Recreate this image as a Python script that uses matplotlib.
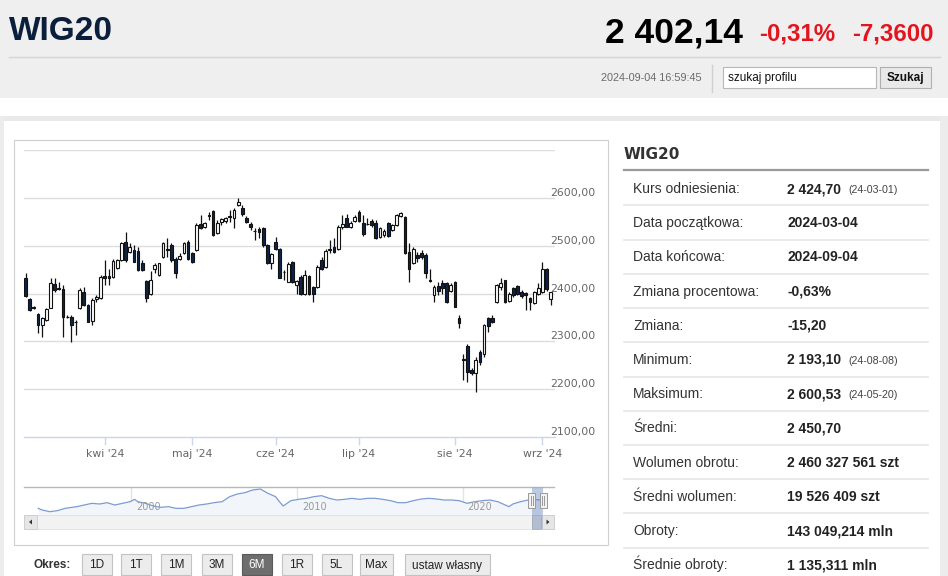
import numpy as np
import matplotlib
matplotlib.use('Agg')
import matplotlib.pyplot as plt
from matplotlib.patches import Rectangle, Polygon
from matplotlib.lines import Line2D
import matplotlib.transforms as mtransforms
from matplotlib import font_manager

# ---------------- data ----------------
opens = [2431.5, 2387.6, 2372, 2358, 2334, 2344, 2370, 2420, 2411, 2409,
         2351, 2351, 2340, 2369, 2404, 2376, 2342, 2388, 2390, 2437,
         2437, 2435, 2452.5, 2470, 2508, 2487, 2491, 2489, 2463, 2426,
         2398, 2451, 2439, 2477, 2494, 2501, 2473, 2473, 2484, 2508,
         2484, 2491, 2545, 2540, 2563, 2573, 2526, 2550, 2551, 2563,
         2557, 2585, 2578, 2558.5, 2545, 2531, 2535, 2536, 2501, 2463,
         2508, 2493, 2445, 2425, 2466, 2418, 2434, 2399, 2436, 2414,
         2413, 2471, 2456, 2494, 2498, 2492, 2538, 2557, 2540, 2552,
         2571, 2547, 2546, 2552, 2548, 2519, 2522, 2546.6, 2532.6, 2543,
         2562.6, 2559, 2487, 2463, 2480, 2484, 2480, 2429, 2396.6, 2415.5,
         2421, 2421, 2405.7, 2424.5, 2347.8, 2262, 2290, 2240, 2233, 2278,
         2273, 2348, 2348, 2383, 2414, 2428, 2385, 2411, 2415, 2404,
         2400, 2390, 2381, 2400, 2404, 2452, 2388]
highs = [2442, 2390, 2374, 2360, 2351, 2369, 2432, 2433, 2425, 2418,
         2355, 2355, 2344, 2411, 2414, 2379, 2390, 2397, 2439, 2470,
         2452, 2473, 2473, 2508, 2529, 2505, 2501, 2498, 2470, 2428,
         2446, 2463, 2464, 2508, 2515, 2505, 2477, 2484, 2508, 2512,
         2487, 2547, 2564, 2550, 2571, 2575, 2554, 2558, 2559, 2575,
         2578, 2600.53, 2585, 2563, 2550, 2536, 2538, 2540, 2503, 2484,
         2519, 2495, 2449, 2466, 2468, 2428, 2438, 2450, 2438, 2416,
         2460, 2477, 2492, 2511, 2515, 2543, 2564, 2567, 2552, 2564,
         2574, 2564, 2557, 2556, 2553, 2540, 2535, 2550, 2546, 2567,
         2569.6, 2561, 2505, 2498, 2487, 2490, 2484, 2452, 2417.6, 2424.5,
         2428, 2424, 2421, 2426, 2354.8, 2274, 2295, 2245, 2268, 2282,
         2337, 2351, 2355, 2420, 2433, 2429, 2403, 2414, 2417, 2407,
         2403, 2393, 2406, 2421, 2466, 2454, 2404]
lows = [2393, 2363, 2367, 2317, 2310, 2342, 2369, 2404, 2407, 2310,
        2348, 2299, 2313, 2367, 2374, 2340, 2334, 2383, 2388, 2418,
        2418, 2433, 2451, 2468, 2466, 2484, 2465, 2447, 2447, 2383,
        2397, 2442, 2437, 2475, 2477, 2466, 2432, 2470, 2482, 2470,
        2463, 2489, 2535, 2536, 2554, 2521, 2524, 2544, 2547, 2550,
        2536, 2582, 2563, 2547, 2533, 2512, 2515, 2498, 2461, 2452,
        2491, 2431.5, 2428, 2424, 2422, 2400, 2397, 2397, 2397, 2383,
        2411, 2450, 2453, 2484, 2485, 2490, 2535, 2538, 2537, 2549,
        2550, 2520, 2543, 2540, 2513, 2516, 2518, 2518, 2531, 2541,
        2560, 2482, 2425, 2461, 2466, 2473, 2431.5, 2424.5, 2382.7, 2397,
        2400, 2380, 2404, 2371, 2327, 2219, 2215, 2230, 2193.1, 2250,
        2268, 2320, 2338, 2381, 2408, 2381, 2383, 2393, 2397, 2390,
        2365, 2365, 2378, 2397, 2401, 2406, 2376]
closes = [2394.6, 2365.3, 2370, 2335, 2349, 2367, 2421, 2407, 2409, 2350,
          2350, 2334, 2341, 2407, 2376, 2341, 2386, 2393, 2435, 2432,
          2433, 2468, 2470, 2505, 2470, 2498, 2466, 2449, 2449, 2390,
          2428, 2459, 2463, 2505, 2491, 2470, 2442, 2478, 2505, 2473,
          2466, 2543, 2536, 2547, 2564, 2522, 2547, 2555, 2557, 2559,
          2575, 2592, 2566, 2550, 2538, 2530, 2529, 2501, 2463, 2482,
          2494, 2433, 2444, 2462, 2424.5, 2426, 2398, 2438.5, 2399, 2399,
          2456, 2452, 2489, 2491, 2487, 2540, 2545, 2540, 2547, 2560,
          2552, 2524, 2545, 2543, 2517, 2536, 2530, 2520, 2543, 2564,
          2567.5, 2484, 2452, 2494, 2475, 2477, 2442, 2427, 2412.7, 2405.7,
          2410.6, 2382.7, 2417.6, 2372.2, 2337.4, 2264, 2236, 2234, 2262, 2257,
          2334, 2332, 2341, 2418, 2421, 2383, 2400, 2397, 2400, 2394,
          2396, 2382, 2404, 2411, 2452, 2409.5, 2402.14]

month_idx = [19, 40, 60, 80, 103, 124]
month_labels = ["kwi '24", "maj '24", "cze '24", "lip '24", "sie '24", "wrz '24"]
y_levels = [2100, 2200, 2300, 2400, 2500, 2600, 2700]
y_labels = ["2100,00", "2200,00", "2300,00", "2400,00", "2500,00", "2600,00"]

nav_years = [1994.38, 1994.62, 1995.08, 1995.54, 1996.0, 1996.7, 1997.16, 1997.62, 1998.08,
             1998.54, 1999.0, 1999.47, 1999.93, 2000.2, 2000.39, 2000.86, 2001.32, 2001.78,
             2002.24, 2002.7, 2003.17, 2003.63, 2004.09, 2004.55, 2005.0, 2005.48, 2005.94,
             2006.4, 2006.86, 2007.33, 2007.79, 2008.0, 2008.25, 2008.71, 2008.94, 2009.17,
             2009.4, 2009.64, 2010.1, 2010.56, 2011.02, 2011.49, 2011.95, 2012.41, 2012.87,
             2013.33, 2013.8, 2014.26, 2014.72, 2015.18, 2015.65, 2016.1, 2016.57, 2017.03,
             2017.5, 2017.96, 2018.42, 2018.88, 2019.34, 2019.8, 2020.27, 2020.73, 2021.19,
             2021.65, 2022.12, 2022.58, 2022.8, 2023.04, 2023.5, 2023.97, 2024.31, 2024.67]
nav_values = [1290, 1065, 840, 975, 1290, 1515, 1740, 1965, 1875, 2055, 1740, 1965, 2190,
              2505, 2190, 1965, 1605, 1425, 1515, 1290, 1290, 1515, 1740, 1875, 2055, 2190,
              2865, 3225, 3405, 3765, 3900, 3630, 3315, 2865, 2190, 1605, 1965, 2325, 2505,
              2640, 2865, 3000, 2640, 2415, 2505, 2640, 2505, 2640, 2640, 2505, 2325, 2055,
              2055, 2325, 2550, 2640, 2550, 2415, 2415, 2325, 1965, 2190, 2325, 2415, 2190,
              1740, 1515, 1875, 2190, 2415, 2505, 2415]
nav_ticks = [2000, 2010, 2020]
range_start, range_end = 2024.17, 2024.67

header_name = "WIG20"
header_price = "2 402,14"
header_pct = "-0,31%"
header_chg = "-7,3600"
header_time = "2024-09-04 16:59:45"

table_labels = ['Kurs odniesienia:', 'Data początkowa:', 'Data końcowa:', 'Zmiana procentowa:',
                'Zmiana:', 'Minimum:', 'Maksimum:', 'Średni:', 'Wolumen obrotu:',
                'Średni wolumen:', 'Obroty:', 'Średnie obroty:']
table_values = ['2 424,70', '2024-03-04', '2024-09-04', '-0,63%', '-15,20', '2 193,10',
                '2 600,53', '2 450,70', '2 460 327 561 szt', '19 526 409 szt',
                '143 049,214 mln', '1 135,311 mln']
table_notes = ['(24-03-01)', '', '', '', '', '(24-08-08)', '(24-05-20)', '', '', '', '', '']

buttons = ['1D', '1T', '1M', '3M', '6M', '1R', '5L', 'Max', 'ustaw własny']
active_button = '6M'

# ---------------- helpers ----------------
def pick(*names):
    avail = {f.name for f in font_manager.fontManager.ttflist}
    for n in names:
        if n in avail:
            return n
    return 'DejaVu Sans'

ARIAL = pick('Liberation Sans', 'Arimo', 'DejaVu Sans')
VERD = 'DejaVu Sans'
plt.rcParams['font.family'] = [ARIAL, 'DejaVu Sans']

W, H = 948, 576
fig = plt.figure(figsize=(W / 100, H / 100), dpi=100)
fig.patch.set_facecolor('white')

def fx(x):
    return x / W

def fy(y):
    return 1 - y / H

def rect(x0, y0, x1, y1, fc='none', ec='none', lw=1.0, z=-5):
    fig.add_artist(Rectangle((fx(x0), fy(y1)), (x1 - x0) / W, (y1 - y0) / H,
                             transform=fig.transFigure, facecolor=fc, edgecolor=ec,
                             linewidth=lw, zorder=z))

def hline(x0, x1, y, color, lw=1.0, z=-4):
    fig.add_artist(Line2D([fx(x0), fx(x1)], [fy(y), fy(y)], transform=fig.transFigure,
                          color=color, linewidth=lw, zorder=z))

def vline(x, y0, y1, color, lw=1.0, z=-4):
    fig.add_artist(Line2D([fx(x), fx(x)], [fy(y0), fy(y1)], transform=fig.transFigure,
                          color=color, linewidth=lw, zorder=z))

def text(x, y, s, **kw):
    kw.setdefault('va', 'baseline')
    fig.text(fx(x), fy(y), s, **kw)

# ---------------- page backgrounds ----------------
rect(0, 0, W, 98, fc='#efefef')
rect(0, 116, W, 121, fc='#e9e9e9')
rect(0, 116, 4, H, fc='#ececec')
rect(940, 116, W, H, fc='#ececec')
hline(9, 940, 57, '#d4d4d4')

# header texts
text(9, 40, header_name, fontsize=24, fontweight='bold', color='#0b1e3c')
text(743, 42, header_price, fontsize=25.5, fontweight='bold', color='black', ha='right')
text(759, 41, header_pct, fontsize=17.3, fontweight='bold', color='#e3141e')
text(934, 41, header_chg, fontsize=17.3, fontweight='bold', color='#e3141e', ha='right')
text(702, 81, header_time, fontsize=7.8, color='#6a6a6a', ha='right')
vline(712, 65, 92, '#d0d0d0')
rect(723, 67, 876, 88, fc='white', ec='#b8b8b8', lw=0.8, z=-3)
text(728, 81.5, 'szukaj profilu', fontsize=8.5, color='#111111')
rect(880, 67, 931, 88, fc='#e9e9e9', ec='#b0b0b0', lw=0.8, z=-3)
text(905.5, 81.5, 'Szukaj', fontsize=8.5, fontweight='bold', color='#111111', ha='center')

# chart panel border
rect(14, 140, 608, 545, fc='none', ec='#cfcfcf', lw=0.8, z=-3)

# ---------------- main candlestick chart ----------------
o = np.array(opens); h = np.array(highs); l = np.array(lows); c = np.array(closes)
idx = np.arange(len(o))
x_px0, x_px1 = 24, 555
ax = fig.add_axes([fx(x_px0), fy(437), (x_px1 - x_px0) / W, (437 - 150) / H])
ax.set_facecolor('none')
ax.set_xlim(-0.36, 127.0)
ax.set_ylim(2100, 2700)
for s in ax.spines.values():
    s.set_visible(False)
for v in y_levels[1:]:
    ax.axhline(v, color='#dddddd', lw=1.0, zorder=0)
ax.axhline(2100, color='#ccd6eb', lw=1.0, zorder=0, clip_on=False)
ax.set_yticks([])
ax.set_xticks(month_idx)
ax.set_xticklabels(month_labels, fontsize=7.8, color='#666666', family=VERD)
ax.tick_params(axis='x', length=6, width=1, color='#ccd6eb', pad=2.5)

up = c >= o
ax.vlines(idx, l, h, color='#111111', lw=0.9, zorder=2)
bottoms = np.minimum(o, c)
heights = np.maximum(np.abs(c - o), 0.8)
ax.bar(idx[up], heights[up], bottom=bottoms[up], width=0.66, color='white',
       edgecolor='#111111', linewidth=0.8, zorder=3)
ax.bar(idx[~up], heights[~up], bottom=bottoms[~up], width=0.66, color='#0d2447',
       edgecolor='#111111', linewidth=0.8, zorder=3)

lab_tr = mtransforms.offset_copy(ax.get_yaxis_transform(), fig=fig, x=0, y=2, units='dots')
for v, s in zip(y_levels[:-1], y_labels):
    ax.text((550 - x_px0) / (x_px1 - x_px0), v, s, transform=lab_tr, ha='left', va='baseline',
            fontsize=7.8, color='#666666', family=VERD, zorder=5)

# ---------------- navigator ----------------
nav_x0, nav_x1 = 24, 554
nav_ylo, nav_yhi = 390, 4170
yr0, yr1 = 1993.52, 2025.52
nav = fig.add_axes([fx(nav_x0), fy(515), (nav_x1 - nav_x0) / W, (515 - 487) / H])
nav.set_xlim(yr0, yr1)
nav.set_ylim(nav_ylo, nav_yhi)
nav.axis('off')
for t in nav_ticks:
    nav.axvline(t, color='#e3e3e3', lw=1, zorder=0)
nav.fill_between(nav_years, nav_values, nav_ylo, color='#f2f5fa', lw=0, zorder=1)
for t in nav_ticks:
    nav.text(t + 0.3, 0.3, str(t), transform=nav.get_xaxis_transform(), fontsize=7,
             color='#9a9a9a', family=VERD, va='center', ha='left', zorder=4)
nav.plot(nav_years, nav_values, color='#7c9bd1', lw=0.9, zorder=3)
nav.axvspan(range_start, range_end + 0.2, color=(0.4, 0.52, 0.76), alpha=0.3, lw=0, zorder=5)
hline(nav_x0, nav_x1, 487, '#b8b8b8', z=2)

def yr_px(yr):
    return nav_x0 + (yr - yr0) / (yr1 - yr0) * (nav_x1 - nav_x0)

# scrollbar
rect(nav_x0, 515, nav_x1, 529, fc='#f2f2f2', ec='#e0e0e0', lw=0.6, z=1)
rect(nav_x0, 515, nav_x0 + 13, 529, fc='#e6e6e6', ec='#cccccc', lw=0.6, z=2)
rect(nav_x1 - 12, 515, nav_x1, 529, fc='#e6e6e6', ec='#cccccc', lw=0.6, z=2)
sx0, sx1 = yr_px(range_start), yr_px(range_end) + 1
rect(sx0, 515, sx1, 529, fc='#c3cad6', ec='#b0b0b0', lw=0.6, z=2)
rect(sx0, 487, yr_px(range_end + 0.2), 529, fc=(0.4, 0.52, 0.76, 0.18), z=2)
fig.add_artist(Polygon([[fx(29), fy(522)], [fx(32), fy(519.5)], [fx(32), fy(524.5)]],
                       closed=True, transform=fig.transFigure, fc='#333333', ec='none', zorder=3))
fig.add_artist(Polygon([[fx(549.5), fy(522)], [fx(546.5), fy(519.5)], [fx(546.5), fy(524.5)]],
                       closed=True, transform=fig.transFigure, fc='#333333', ec='none', zorder=3))
# handles
for hx in (yr_px(range_start), yr_px(range_end + 0.2)):
    rect(hx - 3.5, 493, hx + 3.5, 508, fc='#f2f2f2', ec='#999999', lw=0.7, z=4)
    vline(hx - 1, 496, 505, '#999999', lw=0.7, z=5)
    vline(hx + 1, 496, 505, '#999999', lw=0.7, z=5)

# ---------------- period buttons ----------------
text(34, 568, 'Okres:', fontsize=8.5, fontweight='bold', color='#333333')
btn_x = [(81.5, 111.5), (121, 151), (161, 191), (201.5, 231.5), (242, 272),
         (282, 312), (321.5, 351.5), (360, 393), (405, 490)]
for name, (bx0, bx1) in zip(buttons, btn_x):
    active = name == active_button
    rect(bx0, 554, bx1, 575, fc='#6e6e6e' if active else '#ececec',
         ec='#5a5a5a' if active else '#c2c2c2', lw=0.8, z=1)
    text((bx0 + bx1) / 2, 568.5, name, fontsize=8.5, ha='center',
         color='white' if active else '#222222')

# ---------------- right info table ----------------
text(624, 159, header_name, fontsize=11, fontweight='bold', color='#333333', family=VERD)
hline(624, 928, 170, '#9a9a9a', lw=1.6)
for k, (lab, val, note) in enumerate(zip(table_labels, table_values, table_notes)):
    yc = 188 + 34.2 * k
    text(633, yc + 5, lab, fontsize=10, color='#333333')
    text(787, yc + 5, val, fontsize=10, fontweight='bold', color='#222222')
    if note:
        text(848, yc + 5, note, fontsize=7.7, color='#444444')
    if k < len(table_labels) - 1:
        hline(624, 928, yc + 17.5, '#e6e6e6', lw=1.2)

fig.savefig('out.png', dpi=100)
